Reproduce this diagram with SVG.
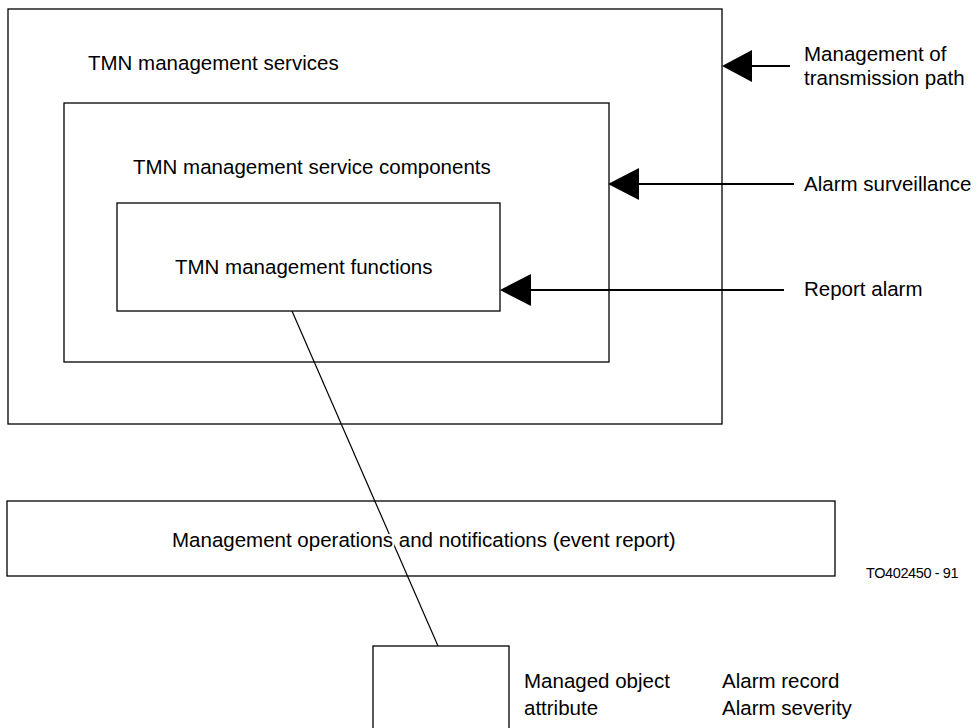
<svg xmlns="http://www.w3.org/2000/svg" width="978" height="728" viewBox="0 0 978 728">
<style>
.box{fill:none;stroke:#000;stroke-width:1.3}
.t{font-family:"Liberation Sans",Arial,sans-serif;font-size:20.5px;fill:#000}
.s{font-family:"Liberation Sans",Arial,sans-serif;font-size:14.5px;fill:#000;letter-spacing:-0.4px}
.shaft{stroke:#000;stroke-width:2;fill:none}
</style>
<rect width="978" height="728" fill="#fff"/>
<g id="services">
<rect class="box" x="8" y="9" width="714" height="415"/>
<text class="t" x="88" y="70">TMN management services</text>
</g>
<g id="components">
<rect class="box" x="64" y="103" width="545" height="259"/>
<text class="t" x="133" y="174">TMN management service components</text>
</g>
<g id="functions">
<rect class="box" x="117" y="203" width="383" height="108"/>
<text class="t" x="175" y="274">TMN management functions</text>
</g>
<g id="operations">
<rect class="box" x="7" y="501" width="828" height="75"/>
</g>
<g id="managed-object">
<rect class="box" x="373" y="646" width="136" height="100"/>
</g>
<g id="connectors">
<line class="shaft" x1="790" y1="66" x2="752" y2="66"/>
<path d="M752,50 L722,66 L752,82 Z" fill="#000"/>
<line class="shaft" x1="794" y1="184" x2="639" y2="184"/>
<path d="M639,168 L608,184 L639,200 Z" fill="#000"/>
<line class="shaft" x1="784" y1="290" x2="531" y2="290"/>
<path d="M531,274 L500,290 L531,306 Z" fill="#000"/>
<line x1="292" y1="311" x2="438" y2="646" stroke="#000" stroke-width="1.2"/>
</g>
<g id="labels">
<text class="t" x="172" y="547" stroke="#fff" stroke-width="4" paint-order="stroke">Management operations and notifications (event report)</text>
<text class="t" x="804" y="61">Management of</text>
<text class="t" x="804" y="85">transmission path</text>
<text class="t" x="804" y="191">Alarm surveillance</text>
<text class="t" x="804" y="296">Report alarm</text>
<text class="s" x="866" y="578">TO402450 - 91</text>
<text class="t" x="524" y="688">Managed object</text>
<text class="t" x="524" y="715">attribute</text>
<text class="t" x="722" y="688">Alarm record</text>
<text class="t" x="722" y="715">Alarm severity</text>
</g>
</svg>
